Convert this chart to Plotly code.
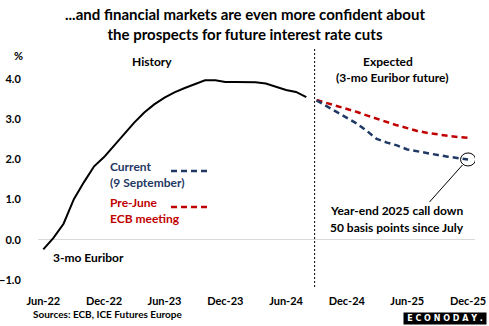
import pandas as pd
import plotly.graph_objects as go

# 3-mo Euribor, monthly averages (%)
hist_months = pd.date_range("2022-06-01", "2024-08-01", freq="MS")
hist_values = [-0.24, 0.04, 0.40, 1.01, 1.43, 1.83, 2.06, 2.35, 2.64, 2.91,
               3.17, 3.37, 3.54, 3.67, 3.78, 3.88, 3.97, 3.97, 3.93, 3.93,
               3.92, 3.92, 3.89, 3.81, 3.73, 3.68, 3.55]

# 3-mo Euribor futures curve (%)
fut_months = pd.date_range("2024-09-01", "2025-12-01", freq="MS")
current_curve = [3.47, 3.33, 3.17, 3.05, 2.89, 2.70, 2.51, 2.42, 2.35, 2.25,
                 2.20, 2.16, 2.11, 2.07, 2.03, 2.00]
prejune_curve = [3.48, 3.41, 3.34, 3.27, 3.18, 3.09, 3.01, 2.93, 2.85, 2.78,
                 2.71, 2.66, 2.62, 2.59, 2.56, 2.54]

tick_dates = pd.date_range("2022-06-01", "2025-12-01", freq="6MS")
tick_labels = [d.strftime("%b-%y") for d in tick_dates]
y_ticks = [-1.0, 0.0, 1.0, 2.0, 3.0, 4.0]

FONT = "Lato"
NAVY = "#1f3864"
RED = "#c00000"
BLACK = "#000000"

fig = go.Figure()
fig.add_trace(go.Scatter(x=hist_months, y=hist_values, mode="lines",
                         line=dict(color=BLACK, width=2), name="3-mo Euribor"))
fig.add_trace(go.Scatter(x=fut_months, y=prejune_curve, mode="lines",
                         line=dict(color=RED, width=2.5, dash="6px,4px"),
                         name="Pre-June ECB meeting"))
fig.add_trace(go.Scatter(x=fut_months, y=current_curve, mode="lines",
                         line=dict(color=NAVY, width=2.5, dash="6px,4px"),
                         name="Current (9 September)"))

# pixel helpers for the plot area (left 38, right 475, top 49, bottom 290)
def px(xp):
    return (xp - 38) / 437
def py(yp):
    return (290 - yp) / 241

ann = []
def text(x, y, s, color=BLACK, size=12, xanchor="center"):
    ann.append(dict(x=x, y=y, xref="paper", yref="paper", text=s, showarrow=False,
                    xanchor=xanchor, yanchor="middle",
                    font=dict(family=FONT, size=size, color=color, weight="bold")))

text(px(152), py(61), "History")
text(px(388), py(61), "Expected")
text(px(392), py(77), "(3-mo Euribor future)")
text(px(51), py(257), "3-mo Euribor", xanchor="left")
text(px(108), py(166), "Current", NAVY, xanchor="left")
text(px(108), py(182), "(9 September)", NAVY, xanchor="left")
text(px(108), py(202), "Pre-June", RED, xanchor="left")
text(px(108), py(218), "ECB meeting", RED, xanchor="left")
text(px(328), py(210), "Year-end 2025 call down", xanchor="left")
text(px(328), py(227), "50 basis points since July", xanchor="left")
text(px(18), py(55), "%", size=11)

# title, source and logo
ann.append(dict(x=px(245), y=py(3), xref="paper", yref="paper", yanchor="top",
                text="...and financial markets are even more confident about<br>"
                     "the prospects for future interest rate cuts",
                showarrow=False, font=dict(family=FONT, size=15, color=BLACK, weight="bold")))
ann.append(dict(x=px(31), y=py(314), xref="paper", yref="paper", xanchor="left",
                yanchor="middle", text="Sources: ECB, ICE Futures Europe", showarrow=False,
                font=dict(family=FONT, size=10, color=BLACK, weight="bold")))
ann.append(dict(x=px(445), y=py(318.5), xref="paper", yref="paper", xanchor="center",
                yanchor="middle", text="E C O N O D A Y .", showarrow=False,
                bgcolor="#000000", width=80, height=9, borderpad=1,
                font=dict(family="DejaVu Sans", size=8, color="#ffffff", weight="bold")))

end_x = fut_months[-1].strftime("%Y-%m-%d")
end_y = current_curve[-1]

shapes = [
    # divider between history and expectations
    dict(type="line", xref="x", yref="paper", x0="2024-08-26", x1="2024-08-26",
         y0=py(287), y1=py(48), line=dict(color="#000000", width=1, dash="2px,2px")),
    # legend keys
    dict(type="line", xref="paper", yref="paper", x0=px(171), x1=px(208),
         y0=py(171), y1=py(171), line=dict(color=NAVY, width=2.5, dash="6px,4px")),
    dict(type="line", xref="paper", yref="paper", x0=px(171), x1=px(208),
         y0=py(207), y1=py(207), line=dict(color=RED, width=2.5, dash="6px,4px")),
    # circle around the year-end 2025 value and its pointer
    dict(type="circle", xref="x", yref="y", xsizemode="pixel", ysizemode="pixel",
         xanchor=end_x, yanchor=end_y,
         x0=-7.5, x1=7.5, y0=-6.5, y1=6.5, line=dict(color="#000000", width=1)),
    dict(type="line", xref="x", yref="y", xsizemode="pixel", ysizemode="pixel",
         xanchor=end_x, yanchor=end_y,
         x0=-5.5, x1=-38.5, y0=-5.5, y1=-42.5, line=dict(color="#000000", width=1)),
]

fig.update_layout(
    width=489, height=326, autosize=False,
    margin=dict(l=38, r=14, t=49, b=36),
    paper_bgcolor="#ffffff", plot_bgcolor="#ffffff",
    showlegend=False,
    annotations=ann, shapes=shapes,
    font=dict(family=FONT, size=11, color=BLACK),
)
fig.update_xaxes(type="date", range=["2022-05-16", "2025-12-22"], automargin=False,
                 tickvals=tick_dates, ticktext=tick_labels,
                 showgrid=False, zeroline=False, showline=False,
                 ticks="outside", ticklen=1, tickcolor="rgba(0,0,0,0)",
                 tickfont=dict(family=FONT, size=11, color=BLACK, weight="bold"))
fig.update_yaxes(range=[-1.25, 4.75], tickvals=y_ticks, tickformat=".1f", automargin=False,
                 showgrid=False, zeroline=True, zerolinecolor="#d9d9d9", zerolinewidth=1,
                 showline=False, ticks="outside", ticklen=14, tickcolor="rgba(0,0,0,0)",
                 tickfont=dict(family=FONT, size=11, color=BLACK, weight="bold"))

fig.write_html("out.html")
